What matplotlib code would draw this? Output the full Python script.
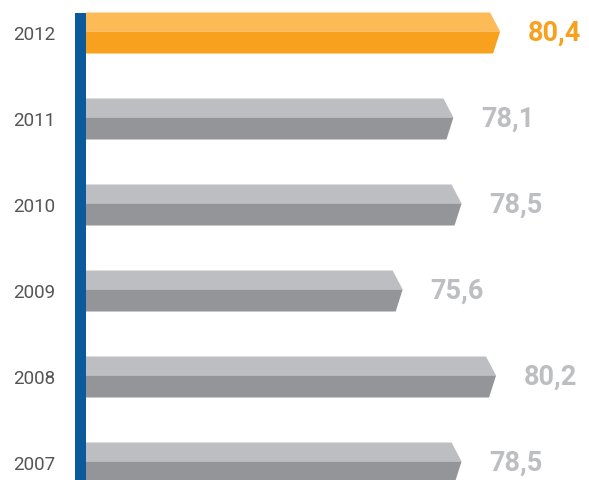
#!/usr/bin/env python3
"""
Horizontal arrow-bar chart, 2007-2012 values.
"""

import matplotlib
matplotlib.use("Agg")
import matplotlib.pyplot as plt
from matplotlib.patches import Polygon, Rectangle

years = ["2012", "2011", "2010", "2009", "2008", "2007"]
values = [80.4, 78.1, 78.5, 75.6, 80.2, 78.5]
value_labels = ["80,4", "78,1", "78,5", "75,6", "80,2", "78,5"]

ORANGE_TOP = "#FDBB58"
ORANGE_BOT = "#F8A11F"
GREY_TOP = "#BDBEC1"
GREY_BOT = "#949598"
GREY_TEXT = "#BDBEC1"
BLUE = "#0A5A9C"

W, H = 589, 480
fig = plt.figure(figsize=(W / 100, H / 100), dpi=100)

# axes start where the bars start (px 86); 20.3 px per unit, spacing 86 px
x0_px = 86
px_per_unit = 20.3
x_min = 60.0
ax = fig.add_axes([x0_px / W, 0, (W - x0_px) / W, 1])
ax.set_xlim(x_min, x_min + (W - x0_px) / px_per_unit)
spacing = 86.0
first_center = 33.0
ax.set_ylim((H - first_center) / spacing, -first_center / spacing)

bar_h = 41 / spacing
split = 19 / spacing          # height of lighter top part
tip_top = 10 / px_per_unit
tip_bot = 7 / px_per_unit

for i, (v, lab) in enumerate(zip(values, value_labels)):
    top_c = ORANGE_TOP if i == 0 else GREY_TOP
    bot_c = ORANGE_BOT if i == 0 else GREY_BOT
    y_top = i - bar_h / 2
    y_mid = y_top + split
    y_bot = i + bar_h / 2
    ax.add_patch(Polygon([(x_min, y_top), (v - tip_top, y_top), (v, y_mid),
                          (x_min, y_mid)], closed=True, facecolor=top_c,
                         edgecolor="none"))
    ax.add_patch(Polygon([(x_min, y_mid), (v, y_mid), (v - tip_bot, y_bot),
                          (x_min, y_bot)], closed=True, facecolor=bot_c,
                         edgecolor="none"))
    ax.annotate(lab, xy=(v, i), xytext=(20, 0), textcoords="offset points",
                ha="left", va="center", fontsize=19.5, fontweight="bold",
                family="Roboto",
                color=ORANGE_BOT if i == 0 else GREY_TEXT)

# blue vertical axis line
ax.add_patch(Rectangle((x_min - 11 / px_per_unit, -bar_h / 2),
                       11 / px_per_unit, 10, facecolor=BLUE,
                       edgecolor="none", clip_on=False))

ax.set_yticks(range(len(years)))
ax.set_yticklabels(years, fontsize=13.5, family="Roboto", color="#555555")
ax.tick_params(axis="y", length=0, pad=22)
ax.set_xticks([])
for s in ax.spines.values():
    s.set_visible(False)

fig.savefig("out.png", dpi=100)
